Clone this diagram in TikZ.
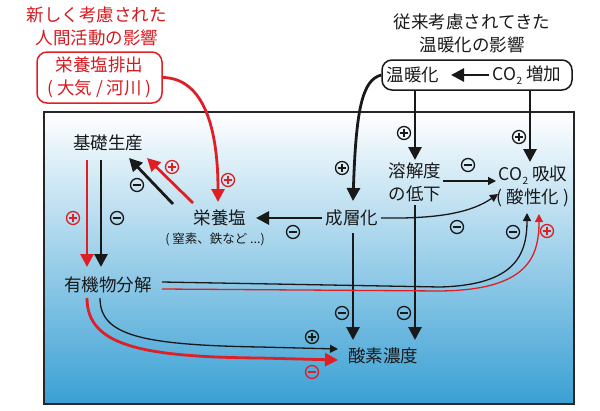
\documentclass[tikz,border=0pt]{standalone}
\usepackage{fontspec}
\setmainfont{Noto Sans CJK JP}
\usetikzlibrary{arrows.meta,calc}
\definecolor{myred}{RGB}{222,32,38}
\definecolor{txtred}{RGB}{215,25,30}
\definecolor{seablue}{RGB}{58,160,212}
\definecolor{seamid}{RGB}{165,203,227}
\newcommand{\subtwo}{\raisebox{-0.45ex}{\fontsize{10}{10}\selectfont 2}}
\begin{document}
\begin{tikzpicture}[x=1pt,y=-1pt,
  lab/.style={font=\fontsize{17.5}{23}\selectfont, inner sep=3pt, align=center, text=black!90},
  small/.style={font=\fontsize{12.5}{15}\selectfont, inner sep=1pt, text=black!90},
  thickblk/.style={line width=2.8pt, draw=black!90, -{Triangle[width=13pt,length=13pt]}},
  thickred/.style={line width=2.8pt, draw=myred, -{Triangle[width=13pt,length=13pt]}},
  thinblk/.style={line width=1.3pt, draw=black!90, -{Triangle[width=8pt,length=8pt]}},
  thinred/.style={line width=1.3pt, draw=myred, -{Triangle[width=8pt,length=8pt]}},
  sym/.style={circle, draw=#1, line width=1.3pt, minimum size=13pt, inner sep=0pt},
  psym/.style={sym=#1, path picture={
      \draw[line width=1.3pt,#1] ([xshift=2.2pt]path picture bounding box.west) -- ([xshift=-2.2pt]path picture bounding box.east);
      \draw[line width=1.3pt,#1] ([yshift=-2.2pt]path picture bounding box.north) -- ([yshift=2.2pt]path picture bounding box.south);}},
  psym/.default=black!90,
  msym/.style={sym=#1, path picture={
      \draw[line width=1.3pt,#1] ([xshift=2.2pt]path picture bounding box.west) -- ([xshift=-2.2pt]path picture bounding box.east);}},
  msym/.default=black!90
]
\useasboundingbox (0,0) rectangle (600,410);

% ocean box
\shade[top color=white, middle color=seamid, bottom color=seablue] (44,112) rectangle (574,404);
\draw[line width=1.5pt, black!85] (44,112) rectangle (574,404);

% titles
\node[lab, text=txtred] (redtitle) at (97,26) {新しく考慮された\\人間活動の影響};
\node[lab] (blktitle) at (472,33) {従来考慮されてきた\\温暖化の影響};

% boxes
\node[lab, text=txtred, draw=myred, line width=1.5pt, rounded corners=10pt,
      minimum width=125pt, minimum height=51pt] (redbox) at (99.5,77.5) {栄養塩排出\\( 大気 / 河川 )};
\node[draw=black!90, line width=1.5pt, rounded corners=10pt, minimum width=190pt, minimum height=30pt] (warmbox) at (477,75) {};
\node[lab] (warm) at (413,75) {温暖化};
\node[lab] (co2inc) at (527,75) {CO\subtwo\ 増加};

% labels
\node[lab] (kiso) at (108,143) {基礎生産};
\node[lab] (eiyo) at (220,218) {栄養塩};
\node[small] (eiyosub) at (215,239) {( 窒素、鉄など ...)};
\node[lab] (seiso) at (352,218) {成層化};
\node[lab] (yokai) at (415,182) {溶解度\\の低下};
\node[lab] (co2abs) at (533,186) {CO\subtwo\ 吸収\\( 酸性化 )};
\node[lab] (yuki) at (108,285) {有機物分解};
\node[lab] (sanso) at (383,356) {酸素濃度};

% connectors
\draw[thickblk] ($(co2inc)+(-38,0)$) -- ($(warm)+(38,0)$);
\draw[thickred] (redbox.east) .. controls (200,78) and (218,120) .. ($(eiyo)+(-2,-16)$);
\draw[thickblk] (warmbox.west) .. controls (362,80) and (356,110) .. ($(seiso)+(1,-17)$);
\draw[thickblk] (warmbox.south -| yokai) -- ($(yokai)+(0,-22)$);
\draw[thickblk] ($(warmbox.south)+(53,0)$) -- ($(co2abs)+(-3,-24)$);
\draw[thinblk] ($(yokai)+(28,-1)$) -- ($(co2abs)+(-37,-5)$);
\draw[thinblk] ($(seiso)+(29,0)$) .. controls (440,219) and (472,212) .. ($(co2abs)+(-35,8)$);
\draw[thickblk] ($(seiso)+(-30,0)$) -- ($(eiyo)+(36,0)$);
\draw[thickblk] ($(eiyo)+(-47,-14)$) -- ($(kiso)+(21,15)$);
\draw[thickred] ($(eiyo)+(-27,-15)$) -- ($(kiso)+(39,15)$);
\draw[thickred] ($(kiso)+(-21,17)$) -- ($(yuki)+(-21,-18)$);
\draw[thickblk] ($(kiso)+(-7,17)$) -- ($(yuki)+(-7,-18)$);
\draw[thickblk] ($(seiso)+(1,15)$) -- ($(sanso)+(-30,-16)$);
\draw[thickblk] ($(yokai)+(0,23)$) -- ($(sanso)+(32,-16)$);
\draw[thinblk] ($(yuki)+(54,-3)$) -- (440,287) .. controls (515,285) and (527,255) .. ($(co2abs)+(-6,27)$);
\draw[thinred] ($(yuki)+(54,4)$) -- (440,291) .. controls (527,290) and (539,258) .. ($(co2abs)+(6,28)$);
\draw[thinblk] ($(yuki)+(-8,13)$) .. controls (100,335) and (140,345) .. (260,347) -- ($(sanso)+(-45,-7)$);
\draw[thickred] ($(yuki)+(-21,13)$) .. controls (87,345) and (140,357) .. (260,358) -- ($(sanso)+(-45,4)$);

% signs
\node[psym=myred] (s1) at (228,180) {};
\node[psym] (s2) at (342,168) {};
\node[psym] (s3) at (404,133) {};
\node[psym] (s4) at (519,137) {};
\node[msym] (s5) at (468,165) {};
\node[msym] (s6) at (457,227) {};
\node[msym] (s7) at (293,232) {};
\node[msym] (s8) at (137,185) {};
\node[psym=myred] (s9) at (172,167) {};
\node[psym=myred] (s10) at (73,218) {};
\node[msym] (s11) at (117,218) {};
\node[msym] (s12) at (513,232) {};
\node[psym=myred] (s13) at (547,231) {};
\node[msym] (s14) at (342,313) {};
\node[msym] (s15) at (404,313) {};
\node[psym] (s16) at (312,337) {};
\node[msym=myred] (s17) at (312,372) {};
\end{tikzpicture}
\end{document}
